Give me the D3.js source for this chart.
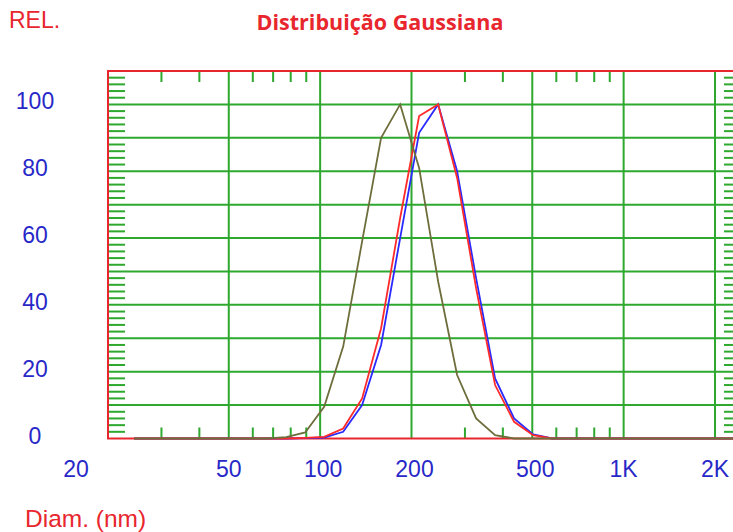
<!DOCTYPE html>
<html><head><meta charset="utf-8">
<script src="https://cdn.jsdelivr.net/npm/d3@7"></script>
<style>html,body{margin:0;padding:0;background:#fff;}svg{display:block;}</style>
</head><body>
<script>
// ---- data ----
const diameters = [24.4, 28.2, 32.5, 37.6, 43.4, 50.1, 57.9, 66.9, 77.3, 89.3, 103.1, 119.1, 137.5, 158.8, 183.5, 211.9, 244.8, 282.7, 326.5, 377.1, 435.6, 503.1, 581.1, 671.2, 775.2, 895.4, 1034, 1195, 1380, 1594, 1841, 2126, 2456];
const seriesOlive = [0,0,0,0,0,0,0,0, 0.4,1.8,9.5,27.5,59,90,100,81,47,19,6,1, 0,0,0,0,0,0,0,0,0,0,0,0,0];
const seriesRed   = [0,0,0,0,0,0,0,0,0,0.2, 0.5,3,12,33,66,96.5,100,78,45,16,5,1, 0,0,0,0,0,0,0,0,0,0,0];
const seriesBlue  = [0,0,0,0,0,0,0,0,0,0.1, 0.3,2,10,28,60,91.5,100,80,48,18,6,1.2, 0,0,0,0,0,0,0,0,0,0,0];
const yTickValues = [0, 20, 40, 60, 80, 100];
const xTickValues = [20, 50, 100, 200, 500, 1000, 2000];
const xTickLabels = ["20", "50", "100", "200", "500", "1K", "2K"];
const xGridValues = [50, 100, 200, 500, 1000, 2000];
const xMinorValues = [30, 40, 60, 70, 80, 90, 300, 400, 600, 700, 800, 900];
const yGridValues = [10, 20, 30, 40, 50, 60, 70, 80, 90, 100];
const yMinorValues = d3.range(2, 110, 2).filter(v => v % 10 !== 0);
const titleText = "Distribuição Gaussiana";
const yAxisTitle = "REL.";
const xAxisTitle = "Diam. (nm)";

// ---- layout ----
const W = 733, H = 532;
const pL = 108, pT = 71, pB = 438.5, pR = 741;
const green = "#2ea82e", red = "#e8262e", blue = "#2828c8";

const x = d3.scaleLog().domain([20, 2000]).range([pL, 715]);
const y = d3.scaleLinear().domain([0, 110]).range([pB, pT]);

const svg = d3.select("body").append("svg").attr("width", W).attr("height", H);

svg.append("defs").append("clipPath").attr("id", "plotclip")
  .append("rect").attr("x", pL).attr("y", pT - 2).attr("width", pR - pL).attr("height", pB - pT + 4);

const g = svg.append("g");

g.selectAll("line.hg").data(yGridValues).enter().append("line")
  .attr("x1", pL).attr("x2", pR).attr("y1", d => y(d)).attr("y2", d => y(d))
  .attr("stroke", green).attr("stroke-width", 2);
g.selectAll("line.vg").data(xGridValues).enter().append("line")
  .attr("x1", d => x(d)).attr("x2", d => x(d)).attr("y1", pT).attr("y2", pB)
  .attr("stroke", green).attr("stroke-width", 2);
g.selectAll("line.xmt").data(xMinorValues).enter().append("line")
  .attr("x1", d => x(d)).attr("x2", d => x(d)).attr("y1", pT).attr("y2", pT + 11)
  .attr("stroke", green).attr("stroke-width", 2);
g.selectAll("line.xmb").data(xMinorValues).enter().append("line")
  .attr("x1", d => x(d)).attr("x2", d => x(d)).attr("y1", pB - 11).attr("y2", pB)
  .attr("stroke", green).attr("stroke-width", 2);
g.selectAll("line.ymL").data(yMinorValues).enter().append("line")
  .attr("x1", pL).attr("x2", pL + 17).attr("y1", d => y(d)).attr("y2", d => y(d))
  .attr("stroke", green).attr("stroke-width", 2);
g.selectAll("line.ymR").data(yMinorValues).enter().append("line")
  .attr("x1", pR - 17).attr("x2", pR).attr("y1", d => y(d)).attr("y2", d => y(d))
  .attr("stroke", green).attr("stroke-width", 2);

g.append("rect").attr("x", pL).attr("y", pT).attr("width", pR - pL).attr("height", pB - pT)
  .attr("fill", "none").attr("stroke", red).attr("stroke-width", 2);

const line = d3.line().x((d, i) => x(diameters[i])).y(d => y(d));
const plot = svg.append("g").attr("clip-path", "url(#plotclip)");
[[seriesBlue, "#2a2aff"], [seriesRed, "#ff2a2a"], [seriesOlive, "#6e6e3c"]].forEach(([s, c]) => {
  plot.append("path").datum(s).attr("d", line).attr("fill", "none")
    .attr("stroke", c).attr("stroke-width", 1.8).attr("stroke-linejoin", "miter");
});

svg.selectAll("text.yl").data(yTickValues).enter().append("text")
  .attr("x", 35).attr("y", d => y(d) - 3).attr("dy", "0.35em")
  .attr("text-anchor", "middle").attr("fill", blue)
  .style("font-family", "Liberation Sans, Arial, sans-serif").style("font-size", "23px")
  .text(d => d);

svg.selectAll("text.xl").data(xTickValues).enter().append("text")
  .attr("x", (d, i) => i === 0 ? x(d) - 32 : x(d) + (d >= 100 && d <= 500 ? 3 : 0))
  .attr("y", 469).attr("dy", "0.35em")
  .attr("text-anchor", "middle").attr("fill", blue)
  .style("font-family", "Liberation Sans, Arial, sans-serif").style("font-size", "23px")
  .text((d, i) => xTickLabels[i]);

svg.append("text").attr("x", 9).attr("y", 28).attr("fill", red)
  .style("font-family", "Liberation Sans, Arial, sans-serif").style("font-size", "23px")
  .text(yAxisTitle);
svg.append("text").attr("x", 380).attr("y", 30).attr("text-anchor", "middle").attr("fill", red)
  .style("font-family", "Open Sans, Lato, sans-serif").style("font-size", "21.5px").style("font-weight", "bold")
  .text(titleText);
svg.append("text").attr("x", 25).attr("y", 527).attr("fill", red)
  .style("font-family", "Liberation Sans, Arial, sans-serif").style("font-size", "24.5px")
  .text(xAxisTitle);
</script>
</body></html>
